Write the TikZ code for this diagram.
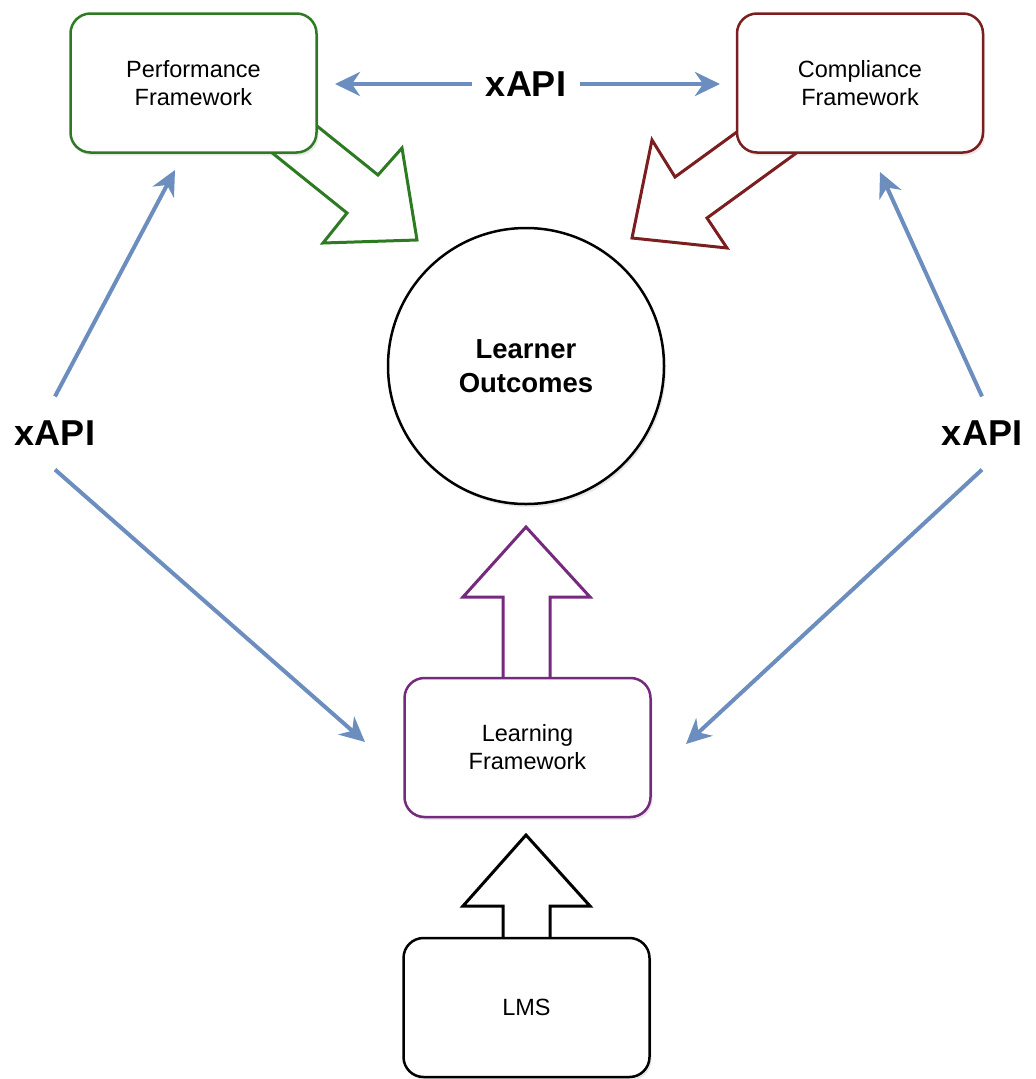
\documentclass[tikz,border=0pt]{standalone}
\usepackage{fontspec}
\setmainfont{Liberation Sans}
\usetikzlibrary{arrows.meta,shadows}
\definecolor{pgreen}{RGB}{45,122,35}
\definecolor{cred}{RGB}{122,30,32}
\definecolor{lpurple}{RGB}{118,42,125}
\definecolor{xblue}{RGB}{108,142,191}
\begin{document}
\begin{tikzpicture}[x=1pt,y=-1pt,
  fwbox/.style={draw, line width=2.5pt, rounded corners=20pt, fill=white,
    minimum width=246pt, minimum height=139pt, align=center,
    font=\fontsize{23.5}{28}\selectfont,
    drop shadow={opacity=0.18, shadow xshift=2pt, shadow yshift=-3pt}},
  xlabel/.style={font=\bfseries\fontsize{36}{40}\selectfont, inner xsep=14pt, inner ysep=24pt},
  xarrow/.style={draw=xblue, line width=4pt, -{Stealth[length=25pt,width=24pt,inset=8pt]}},
  blockarrow/.style={line width=3pt, line join=miter, fill=white}
]
\useasboundingbox (0,0) rectangle (1036,1079);

% block arrows (drawn first, boxes cover the shaft ends)
\draw[blockarrow, draw=pgreen] (230,119) -- (347,213) -- (323,243) -- (417,240) -- (402,148) -- (378,175) -- (261,81) -- cycle;
\draw[blockarrow, draw=cred] (796,89) -- (675,177) -- (652,140) -- (632,238) -- (727,248) -- (707,218) -- (828,130) -- cycle;
\draw[blockarrow, draw=lpurple] (503,700) -- (503,597) -- (463,597) -- (526,527) -- (590,597) -- (550,597) -- (550,700) -- cycle;
\draw[blockarrow, draw=black] (503,960) -- (503,906) -- (463,906) -- (526,835) -- (590,906) -- (550,906) -- (550,960) -- cycle;

% boxes
\node[fwbox, draw=pgreen] (perf) at (193.5,83) {Performance\\Framework};
\node[fwbox, draw=cred] (comp) at (860,83) {Compliance\\Framework};
\node[fwbox, draw=lpurple] (learn) at (527.5,747.5) {Learning\\Framework};
\node[fwbox, draw=black] (lms) at (526.5,1007.5) {LMS};
\node[circle, draw, line width=2.5pt, minimum size=276pt, fill=white, align=center,
  font=\bfseries\fontsize{27.5}{34}\selectfont,
  drop shadow={opacity=0.18, shadow xshift=2pt, shadow yshift=-3pt}] (lo) at (526,366) {Learner\\Outcomes};

% xAPI labels
\node[xlabel] (xT) at (526,84) {xAPI};
\node[xlabel] (xL) at (55,433) {xAPI};
\node[xlabel] (xR) at (982,433) {xAPI};

% arrow tips
\coordinate (tTL) at (335,84);
\coordinate (tTR) at (720,84);
\coordinate (tPL) at (175,170);
\coordinate (tLL) at (365,742);
\coordinate (tCR) at (880,172);
\coordinate (tLR) at (686,744);

\draw[xarrow] (xT.west) -- (tTL);
\draw[xarrow] (xT.east) -- (tTR);
\draw[xarrow] (xL.north) -- (tPL);
\draw[xarrow] (xL.south) -- (tLL);
\draw[xarrow] (xR.north) -- (tCR);
\draw[xarrow] (xR.south) -- (tLR);
\end{tikzpicture}
\end{document}
